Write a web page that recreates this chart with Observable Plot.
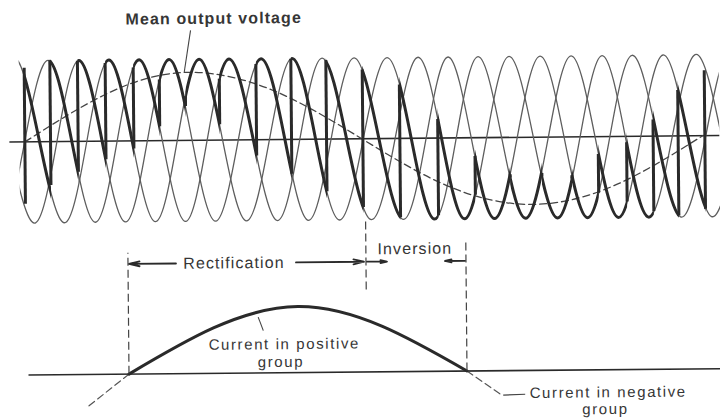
<!DOCTYPE html>
<html>
<head>
<meta charset="utf-8">
<script src="https://cdn.jsdelivr.net/npm/d3@7"></script>
<script src="https://cdn.jsdelivr.net/npm/@observablehq/plot@0.6"></script>
<style>
html, body { margin: 0; padding: 0; background: #fff; }
#fig { width: 720px; height: 419px; overflow: hidden; position: relative; background: #fff; }
#inner { width: 720px; height: 419px; transform: rotate(-0.53deg); transform-origin: 360px 210px; }
#inner svg { display: block; }
</style>
</head>
<body>
<div id="fig"><div id="inner"></div></div>
<script>
// ---- Supply phase voltages (time axis in drawing units, value normalised to peak = 1) ----
const phaseA_peaks   = [19, 110, 200, 293, 388, 479, 572, 664, 758];
const phaseA_troughs = [-27, 65, 155, 246, 339, 434, 525, 618, 711, 804];
const phaseB_peaks   = [-43, 50, 140, 230, 323, 419, 510, 603, 696, 789];
const phaseB_troughs = [4, 95, 185, 277, 371, 464, 557, 648, 742];
const phaseC_peaks   = [-12, 80, 170, 262, 355, 449, 541, 633, 727];
const phaseC_troughs = [-58, 35, 125, 215, 308, 403, 494, 587, 680, 773];

// ---- Firing instants of the converter (bold output trace) ----
const fireT     = [25, 50.7, 78.3, 106, 134, 160, 186, 220, 256.7, 291.7, 326.7, 363, 400, 438, 475, 510, 541.7, 571.7, 598.3, 626.7, 653.3, 678.3, 705];
const firePhase = ["A","B","C","A","B","C","A","B","C","A","B","C","A","B","C","A","B","C","A","B","C","A","B"];
const jumpFrom  = [-0.77, -0.54, -0.38, -0.23, -0.10, 0.17, 0.42, 0.19, -0.20, -0.43, -0.65, -0.85, -0.98, -0.96, -0.71, -0.46, -0.45, -0.52, -0.70, -0.81, -0.93, -0.99, -0.91];
const jumpTo    = [0.91, 1.00, 0.99, 0.96, 0.90, 0.75, 0.54, 0.75, 0.93, 0.99, 0.97, 0.85, 0.66, 0.23, -0.23, -0.50, -0.49, -0.48, -0.22, -0.08, 0.20, 0.56, 0.80];

// ---- Mean output voltage (dashed) ----
const meanT = [25, 110, 190, 275, 362, 447, 532, 617, 703];
const meanV = [0, 0.60, 0.84, 0.60, 0, -0.59, -0.83, -0.59, 0];

// ---- Load current in positive group ----
const currentT = [127, 296.5, 465];
const currentI = [0, 1, 0];
const currentExtLeftT = [127, 85];
const currentExtLeftI = [0, -0.494];
const currentExtRightT = [465, 500];
const currentExtRightI = [0, -0.376];

// ---- Mode boundaries and labels ----
const boundaryT  = [127, 365, 465];
const boundaryY1 = [0, 1.24, 0];
const boundaryY2 = [1.83, 2.33, 2.0];
const arrowX1 = [175, 295, 366, 464];
const arrowX2 = [128, 363, 386, 444];
const arrowY  = 1.67;

const INK = "#2a2a2a", THIN = "#5e5e5e", TXT = "#363636";

function phaseRows(name, peaks, troughs) {
  return peaks.map(t => ({t, v: 1, phase: name}))
    .concat(troughs.map(t => ({t, v: -1, phase: name})))
    .sort((a, b) => a.t - b.t);
}
const phases = {
  A: phaseRows("A", phaseA_peaks, phaseA_troughs),
  B: phaseRows("B", phaseB_peaks, phaseB_troughs),
  C: phaseRows("C", phaseC_peaks, phaseC_troughs)
};
const allPhases = phases.A.concat(phases.B, phases.C);
const segments = fireT.slice(0, -1).map((t, i) => ({phase: firePhase[i], start: t, end: fireT[i + 1]}));
const jumps = fireT.map((t, i) => ({t, from: jumpFrom[i], to: jumpTo[i]}));
const meanRows = meanT.map((t, i) => ({t, v: meanV[i]}));

const svgStyle = "font-family: 'Liberation Sans', Arial, sans-serif; font-size: 16px; letter-spacing: 1.1px; background: transparent; overflow: visible;";

const topPlot = Plot.plot({
  width: 720, height: 232,
  marginLeft: 20, marginRight: 0, marginTop: 49.2, marginBottom: 4.6,
  x: {domain: [20, 720], axis: null},
  y: {domain: [-1.1, 1.1], axis: null},
  style: svgStyle,
  marks: [
    Plot.ruleY([{v: 0, a: 10, b: 720}], {y: "v", x1: "a", x2: "b", stroke: INK, strokeWidth: 1.6}),
    Plot.line(allPhases, {x: "t", y: "v", z: "phase", curve: "natural", stroke: THIN, strokeWidth: 1.3, clip: true}),
    Plot.line(meanRows, {x: "t", y: "v", curve: "natural", stroke: "#444", strokeWidth: 1.3, strokeDasharray: "7,4"}),
    ...segments.map((s, i) => Plot.line(phases[s.phase], {
      x: "t", y: "v", curve: "natural", stroke: INK, strokeWidth: 3, ariaDescription: "bold-seg-" + i
    })),
    Plot.ruleX(jumps, {x: "t", y1: "from", y2: "to", stroke: INK, strokeWidth: 3}),
    Plot.link([{a: 191.7, b: 1.357, c: 185, d: 0.842}], {x1: "a", y1: "b", x2: "c", y2: "d", stroke: "#444", strokeWidth: 1.1}),
    Plot.text([{s: "Mean output voltage", t: 215, v: 1.5}], {text: "s", x: "t", y: "v", fontSize: 16, fontWeight: "bold", fill: TXT})
  ]
});

// clip each bold segment of the output trace between its two firing instants
(function clipSegments(svg) {
  const ns = "http://www.w3.org/2000/svg";
  const xs = svg.scale("x");
  const defs = document.createElementNS(ns, "defs");
  svg.insertBefore(defs, svg.firstChild);
  const lineGroups = svg.querySelectorAll('g[aria-label="line"]');
  segments.forEach((s, i) => {
    const cp = document.createElementNS(ns, "clipPath");
    cp.setAttribute("id", "segclip-" + i);
    const r = document.createElementNS(ns, "rect");
    const x0 = xs.apply(s.start), x1 = xs.apply(s.end);
    r.setAttribute("x", x0);
    r.setAttribute("width", Math.max(0, x1 - x0));
    r.setAttribute("y", -50);
    r.setAttribute("height", 350);
    cp.appendChild(r);
    defs.appendChild(cp);
    let g = svg.querySelector('[aria-description="bold-seg-' + i + '"]');
    if (!g) g = lineGroups[2 + i];
    if (g) g.setAttribute("clip-path", "url(#segclip-" + i + ")");
  });
})(topPlot);

const currentRows = currentT.map((t, i) => ({t, v: currentI[i]}));
const extRows = currentExtLeftT.map((t, i) => ({t, v: currentExtLeftI[i], side: "L"}))
  .concat(currentExtRightT.map((t, i) => ({t, v: currentExtRightI[i], side: "R"})));
const boundaries = boundaryT.map((t, i) => ({t, y1: boundaryY1[i], y2: boundaryY2[i]}));
const arrows = arrowX1.map((a, i) => ({a, b: arrowX2[i], y: arrowY}));
const modeLabels = [
  {s: "Rectification", t: 233, v: 1.667},
  {s: "Inversion", t: 414, v: 1.859}
];
const currentLabels = [
  {s: "Current in positive", t: 282.5, v: 0.43},
  {s: "group", t: 279, v: 0.16},
  {s: "Current in negative", t: 606, v: -0.345},
  {s: "group", t: 603, v: -0.60}
];

const botPlot = Plot.plot({
  width: 720, height: 187,
  marginLeft: 20, marginRight: 0, marginTop: 14.1, marginBottom: 7.9,
  x: {domain: [20, 720], axis: null},
  y: {domain: [-0.6, 1.9], axis: null},
  style: svgStyle,
  marks: [
    Plot.ruleY([{v: 0, a: 27, b: 720}], {y: "v", x1: "a", x2: "b", stroke: INK, strokeWidth: 1.6}),
    Plot.line(extRows, {x: "t", y: "v", z: "side", stroke: "#555", strokeWidth: 1.2, strokeDasharray: "7,4"}),
    Plot.line(currentRows, {x: "t", y: "v", curve: "natural", stroke: INK, strokeWidth: 3}),
    Plot.ruleX(boundaries, {x: "t", y1: "y1", y2: "y2", stroke: "#444", strokeWidth: 1.2, strokeDasharray: "8,4"}),
    Plot.arrow(arrows, {x1: "a", y1: "y", x2: "b", y2: "y", stroke: INK, strokeWidth: 1.8, headLength: 9, headAngle: 26}),
    Plot.link([{a: 256.7, b: 0.845, c: 261.7, d: 0.64}, {a: 501, b: -0.37, c: 523, d: -0.36}],
      {x1: "a", y1: "b", x2: "c", y2: "d", stroke: "#444", strokeWidth: 1.1}),
    Plot.text(modeLabels, {text: "s", x: "t", y: "v", fontSize: 16, fill: TXT}),
    Plot.text(currentLabels, {text: "s", x: "t", y: "v", fontSize: 15, fill: TXT, ariaDescription: "current-labels"})
  ]
});
const curG = botPlot.querySelector('[aria-description="current-labels"]');
if (curG) curG.setAttribute("letter-spacing", "1.6");

const inner = document.getElementById("inner");
inner.appendChild(topPlot);
inner.appendChild(botPlot);
</script>
</body>
</html>
